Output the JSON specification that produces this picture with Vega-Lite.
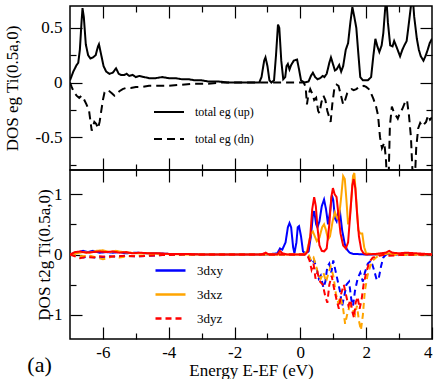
{
"$schema": "https://vega.github.io/schema/vega-lite/v6.json",
"padding": {"left": 2, "top": 4, "right": 6, "bottom": 0},
"spacing": 0,
"bounds": "flush",
"config": {
  "font": "Liberation Serif",
  "view": {"stroke": "black", "strokeWidth": 1.5},
  "axis": {"grid": false, "domain": false, "labelFont": "Liberation Serif", "labelFontSize": 17, "labelColor": "black", "titleFont": "Liberation Serif", "titleFontSize": 17, "titleFontWeight": "normal", "titleColor": "black", "tickColor": "black", "tickWidth": 1.2, "labelPadding": 20},
  "legend": {"labelFont": "Liberation Serif", "labelColor": "black"}
},
"title": {"text": "(a)", "orient": "bottom", "anchor": "start", "frame": "bounds", "fontSize": 22, "fontWeight": "normal", "font": "Liberation Serif", "color": "black", "offset": -24, "dx": 25},
"resolve": {"scale": {"y": "independent", "color": "independent", "strokeDash": "independent"}},
"datasets": {
"eg": [
{"s":"up","E":-7.0,"v":0.02},{"s":"up","E":-6.9,"v":0.1},{"s":"up","E":-6.8,"v":0.16},{"s":"up","E":-6.75,"v":0.18},{"s":"up","E":-6.7,"v":0.3},{"s":"up","E":-6.65,"v":0.55},{"s":"up","E":-6.62,"v":0.68},{"s":"up","E":-6.58,"v":0.6},{"s":"up","E":-6.52,"v":0.35},{"s":"up","E":-6.45,"v":0.25},{"s":"up","E":-6.38,"v":0.22},{"s":"up","E":-6.3,"v":0.23},{"s":"up","E":-6.22,"v":0.25},{"s":"up","E":-6.15,"v":0.33},{"s":"up","E":-6.12,"v":0.35},{"s":"up","E":-6.05,"v":0.25},{"s":"up","E":-5.98,"v":0.15},{"s":"up","E":-5.9,"v":0.1},{"s":"up","E":-5.8,"v":0.08},{"s":"up","E":-5.7,"v":0.09},{"s":"up","E":-5.6,"v":0.13},{"s":"up","E":-5.52,"v":0.08},{"s":"up","E":-5.45,"v":0.07},{"s":"up","E":-5.35,"v":0.07},{"s":"up","E":-5.28,"v":0.08},{"s":"up","E":-5.2,"v":0.06},{"s":"up","E":-5.1,"v":0.07},{"s":"up","E":-5.0,"v":0.05},{"s":"up","E":-4.9,"v":0.06},{"s":"up","E":-4.75,"v":0.05},{"s":"up","E":-4.6,"v":0.04},{"s":"up","E":-4.4,"v":0.04},{"s":"up","E":-4.2,"v":0.05},{"s":"up","E":-4.0,"v":0.04},{"s":"up","E":-3.8,"v":0.04},{"s":"up","E":-3.6,"v":0.03},{"s":"up","E":-3.4,"v":0.03},{"s":"up","E":-3.2,"v":0.02},{"s":"up","E":-3.0,"v":0.02},{"s":"up","E":-2.8,"v":0.01},{"s":"up","E":-2.5,"v":0.01},{"s":"up","E":-2.2,"v":0.0},{"s":"up","E":-1.5,"v":0.0},{"s":"up","E":-1.25,"v":0.0},{"s":"up","E":-1.18,"v":0.05},{"s":"up","E":-1.1,"v":0.2},{"s":"up","E":-1.06,"v":0.23},{"s":"up","E":-1.0,"v":0.15},{"s":"up","E":-0.94,"v":0.02},{"s":"up","E":-0.88,"v":0.0},{"s":"up","E":-0.8,"v":0.02},{"s":"up","E":-0.74,"v":0.25},{"s":"up","E":-0.68,"v":0.53},{"s":"up","E":-0.64,"v":0.5},{"s":"up","E":-0.58,"v":0.2},{"s":"up","E":-0.52,"v":0.03},{"s":"up","E":-0.46,"v":0.05},{"s":"up","E":-0.42,"v":0.15},{"s":"up","E":-0.38,"v":0.17},{"s":"up","E":-0.33,"v":0.12},{"s":"up","E":-0.28,"v":0.16},{"s":"up","E":-0.2,"v":0.2},{"s":"up","E":-0.1,"v":0.21},{"s":"up","E":-0.04,"v":0.12},{"s":"up","E":0.02,"v":0.02},{"s":"up","E":0.12,"v":0.0},{"s":"up","E":0.25,"v":0.01},{"s":"up","E":0.32,"v":0.06},{"s":"up","E":0.38,"v":0.09},{"s":"up","E":0.45,"v":0.05},{"s":"up","E":0.52,"v":0.03},{"s":"up","E":0.6,"v":0.04},{"s":"up","E":0.68,"v":0.06},{"s":"up","E":0.73,"v":0.05},{"s":"up","E":0.8,"v":0.08},{"s":"up","E":0.88,"v":0.18},{"s":"up","E":0.93,"v":0.23},{"s":"up","E":0.98,"v":0.18},{"s":"up","E":1.05,"v":0.11},{"s":"up","E":1.1,"v":0.12},{"s":"up","E":1.18,"v":0.16},{"s":"up","E":1.24,"v":0.1},{"s":"up","E":1.3,"v":0.15},{"s":"up","E":1.38,"v":0.3},{"s":"up","E":1.45,"v":0.36},{"s":"up","E":1.52,"v":0.55},{"s":"up","E":1.58,"v":0.69},{"s":"up","E":1.64,"v":0.6},{"s":"up","E":1.7,"v":0.5},{"s":"up","E":1.76,"v":0.27},{"s":"up","E":1.82,"v":0.05},{"s":"up","E":1.9,"v":0.02},{"s":"up","E":2.05,"v":0.02},{"s":"up","E":2.15,"v":0.05},{"s":"up","E":2.22,"v":0.25},{"s":"up","E":2.28,"v":0.4},{"s":"up","E":2.34,"v":0.33},{"s":"up","E":2.4,"v":0.28},{"s":"up","E":2.47,"v":0.34},{"s":"up","E":2.52,"v":0.45},{"s":"up","E":2.57,"v":0.65},{"s":"up","E":2.61,"v":0.78},{"s":"up","E":2.66,"v":0.55},{"s":"up","E":2.73,"v":0.34},{"s":"up","E":2.8,"v":0.33},{"s":"up","E":2.85,"v":0.38},{"s":"up","E":2.93,"v":0.32},{"s":"up","E":3.03,"v":0.24},{"s":"up","E":3.1,"v":0.3},{"s":"up","E":3.16,"v":0.34},{"s":"up","E":3.23,"v":0.38},{"s":"up","E":3.3,"v":0.55},{"s":"up","E":3.36,"v":0.7},{"s":"up","E":3.41,"v":0.8},{"s":"up","E":3.46,"v":0.6},{"s":"up","E":3.54,"v":0.4},{"s":"up","E":3.6,"v":0.3},{"s":"up","E":3.66,"v":0.24},{"s":"up","E":3.74,"v":0.2},{"s":"up","E":3.8,"v":0.24},{"s":"up","E":3.87,"v":0.3},{"s":"up","E":3.93,"v":0.36},{"s":"up","E":4.0,"v":0.4},
{"s":"dn","E":-7.0,"v":0.0},{"s":"dn","E":-6.95,"v":-0.04},{"s":"dn","E":-6.88,"v":-0.09},{"s":"dn","E":-6.8,"v":-0.12},{"s":"dn","E":-6.72,"v":-0.14},{"s":"dn","E":-6.65,"v":-0.12},{"s":"dn","E":-6.58,"v":-0.15},{"s":"dn","E":-6.5,"v":-0.2},{"s":"dn","E":-6.42,"v":-0.26},{"s":"dn","E":-6.38,"v":-0.35},{"s":"dn","E":-6.34,"v":-0.44},{"s":"dn","E":-6.3,"v":-0.4},{"s":"dn","E":-6.26,"v":-0.36},{"s":"dn","E":-6.2,"v":-0.38},{"s":"dn","E":-6.15,"v":-0.42},{"s":"dn","E":-6.1,"v":-0.36},{"s":"dn","E":-6.05,"v":-0.26},{"s":"dn","E":-6.0,"v":-0.16},{"s":"dn","E":-5.95,"v":-0.09},{"s":"dn","E":-5.88,"v":-0.07},{"s":"dn","E":-5.8,"v":-0.08},{"s":"dn","E":-5.72,"v":-0.1},{"s":"dn","E":-5.65,"v":-0.12},{"s":"dn","E":-5.58,"v":-0.1},{"s":"dn","E":-5.5,"v":-0.08},{"s":"dn","E":-5.4,"v":-0.06},{"s":"dn","E":-5.3,"v":-0.05},{"s":"dn","E":-5.15,"v":-0.05},{"s":"dn","E":-5.0,"v":-0.04},{"s":"dn","E":-4.8,"v":-0.04},{"s":"dn","E":-4.6,"v":-0.03},{"s":"dn","E":-4.4,"v":-0.03},{"s":"dn","E":-4.0,"v":-0.03},{"s":"dn","E":-3.6,"v":-0.02},{"s":"dn","E":-3.2,"v":-0.01},{"s":"dn","E":-2.8,"v":-0.01},{"s":"dn","E":-2.4,"v":0.0},{"s":"dn","E":-0.2,"v":0.0},{"s":"dn","E":0.1,"v":0.0},{"s":"dn","E":0.16,"v":-0.04},{"s":"dn","E":0.2,"v":-0.2},{"s":"dn","E":0.24,"v":-0.12},{"s":"dn","E":0.3,"v":-0.06},{"s":"dn","E":0.36,"v":-0.1},{"s":"dn","E":0.42,"v":-0.16},{"s":"dn","E":0.48,"v":-0.14},{"s":"dn","E":0.54,"v":-0.26},{"s":"dn","E":0.58,"v":-0.28},{"s":"dn","E":0.64,"v":-0.18},{"s":"dn","E":0.7,"v":-0.12},{"s":"dn","E":0.76,"v":-0.16},{"s":"dn","E":0.82,"v":-0.26},{"s":"dn","E":0.88,"v":-0.32},{"s":"dn","E":0.92,"v":-0.36},{"s":"dn","E":0.97,"v":-0.2},{"s":"dn","E":1.03,"v":-0.06},{"s":"dn","E":1.1,"v":-0.02},{"s":"dn","E":1.16,"v":-0.03},{"s":"dn","E":1.22,"v":-0.1},{"s":"dn","E":1.3,"v":-0.2},{"s":"dn","E":1.35,"v":-0.17},{"s":"dn","E":1.42,"v":-0.1},{"s":"dn","E":1.48,"v":-0.08},{"s":"dn","E":1.56,"v":-0.06},{"s":"dn","E":1.62,"v":-0.07},{"s":"dn","E":1.7,"v":-0.06},{"s":"dn","E":1.78,"v":-0.04},{"s":"dn","E":1.85,"v":-0.04},{"s":"dn","E":1.93,"v":-0.03},{"s":"dn","E":2.0,"v":-0.04},{"s":"dn","E":2.08,"v":-0.06},{"s":"dn","E":2.15,"v":-0.1},{"s":"dn","E":2.22,"v":-0.15},{"s":"dn","E":2.3,"v":-0.22},{"s":"dn","E":2.36,"v":-0.3},{"s":"dn","E":2.42,"v":-0.5},{"s":"dn","E":2.48,"v":-0.6},{"s":"dn","E":2.55,"v":-0.55},{"s":"dn","E":2.6,"v":-0.7},{"s":"dn","E":2.64,"v":-0.95},{"s":"dn","E":2.68,"v":-0.9},{"s":"dn","E":2.72,"v":-0.4},{"s":"dn","E":2.78,"v":-0.22},{"s":"dn","E":2.84,"v":-0.27},{"s":"dn","E":2.9,"v":-0.3},{"s":"dn","E":2.96,"v":-0.33},{"s":"dn","E":3.02,"v":-0.28},{"s":"dn","E":3.1,"v":-0.24},{"s":"dn","E":3.18,"v":-0.18},{"s":"dn","E":3.24,"v":-0.16},{"s":"dn","E":3.3,"v":-0.3},{"s":"dn","E":3.36,"v":-0.5},{"s":"dn","E":3.42,"v":-0.9},{"s":"dn","E":3.47,"v":-0.95},{"s":"dn","E":3.52,"v":-0.6},{"s":"dn","E":3.58,"v":-0.42},{"s":"dn","E":3.64,"v":-0.37},{"s":"dn","E":3.7,"v":-0.4},{"s":"dn","E":3.76,"v":-0.38},{"s":"dn","E":3.82,"v":-0.36},{"s":"dn","E":3.88,"v":-0.3},{"s":"dn","E":3.94,"v":-0.34},{"s":"dn","E":4.0,"v":-0.32}
],
"t2g": [
{"o":"xy","p":"up","E":-7.0,"w":0.0},{"o":"xy","p":"up","E":-6.8,"w":0.03},{"o":"xy","p":"up","E":-6.6,"w":0.06},{"o":"xy","p":"up","E":-6.45,"w":0.04},{"o":"xy","p":"up","E":-6.3,"w":0.06},{"o":"xy","p":"up","E":-6.1,"w":0.03},{"o":"xy","p":"up","E":-5.9,"w":0.04},{"o":"xy","p":"up","E":-5.7,"w":0.03},{"o":"xy","p":"up","E":-5.5,"w":0.04},{"o":"xy","p":"up","E":-5.3,"w":0.02},{"o":"xy","p":"up","E":-5.0,"w":0.03},{"o":"xy","p":"up","E":-4.7,"w":0.02},{"o":"xy","p":"up","E":-4.4,"w":0.02},{"o":"xy","p":"up","E":-4.0,"w":0.01},{"o":"xy","p":"up","E":-3.5,"w":0.01},{"o":"xy","p":"up","E":-3.0,"w":0.0},{"o":"xy","p":"up","E":-1.0,"w":0.0},{"o":"xy","p":"up","E":-0.7,"w":0.02},{"o":"xy","p":"up","E":-0.62,"w":0.1},{"o":"xy","p":"up","E":-0.55,"w":0.08},{"o":"xy","p":"up","E":-0.45,"w":0.2},{"o":"xy","p":"up","E":-0.38,"w":0.45},{"o":"xy","p":"up","E":-0.33,"w":0.52},{"o":"xy","p":"up","E":-0.28,"w":0.45},{"o":"xy","p":"up","E":-0.22,"w":0.12},{"o":"xy","p":"up","E":-0.18,"w":0.02},{"o":"xy","p":"up","E":-0.12,"w":0.2},{"o":"xy","p":"up","E":-0.08,"w":0.45},{"o":"xy","p":"up","E":-0.04,"w":0.47},{"o":"xy","p":"up","E":0.02,"w":0.3},{"o":"xy","p":"up","E":0.08,"w":0.05},{"o":"xy","p":"up","E":0.15,"w":0.02},{"o":"xy","p":"up","E":0.25,"w":0.05},{"o":"xy","p":"up","E":0.32,"w":0.3},{"o":"xy","p":"up","E":0.38,"w":0.65},{"o":"xy","p":"up","E":0.42,"w":0.72},{"o":"xy","p":"up","E":0.48,"w":0.5},{"o":"xy","p":"up","E":0.52,"w":0.45},{"o":"xy","p":"up","E":0.58,"w":0.55},{"o":"xy","p":"up","E":0.65,"w":0.8},{"o":"xy","p":"up","E":0.72,"w":0.91},{"o":"xy","p":"up","E":0.78,"w":0.75},{"o":"xy","p":"up","E":0.84,"w":0.5},{"o":"xy","p":"up","E":0.9,"w":0.7},{"o":"xy","p":"up","E":0.96,"w":0.98},{"o":"xy","p":"up","E":1.0,"w":0.9},{"o":"xy","p":"up","E":1.05,"w":0.6},{"o":"xy","p":"up","E":1.1,"w":0.55},{"o":"xy","p":"up","E":1.15,"w":0.7},{"o":"xy","p":"up","E":1.2,"w":0.72},{"o":"xy","p":"up","E":1.27,"w":0.4},{"o":"xy","p":"up","E":1.35,"w":0.17},{"o":"xy","p":"up","E":1.42,"w":0.08},{"o":"xy","p":"up","E":1.5,"w":0.03},{"o":"xy","p":"up","E":1.6,"w":0.01},{"o":"xy","p":"up","E":2.0,"w":0.0},{"o":"xy","p":"up","E":2.5,"w":0.0},{"o":"xy","p":"up","E":2.7,"w":0.01},{"o":"xy","p":"up","E":3.0,"w":0.0},{"o":"xy","p":"up","E":3.5,"w":0.01},{"o":"xy","p":"up","E":4.0,"w":0.0},
{"o":"xy","p":"dn","E":-7.0,"w":0.0},{"o":"xy","p":"dn","E":-6.8,"w":-0.02},{"o":"xy","p":"dn","E":-6.6,"w":-0.05},{"o":"xy","p":"dn","E":-6.4,"w":-0.03},{"o":"xy","p":"dn","E":-6.2,"w":-0.06},{"o":"xy","p":"dn","E":-6.0,"w":-0.04},{"o":"xy","p":"dn","E":-5.8,"w":-0.03},{"o":"xy","p":"dn","E":-5.6,"w":-0.04},{"o":"xy","p":"dn","E":-5.3,"w":-0.02},{"o":"xy","p":"dn","E":-5.0,"w":-0.03},{"o":"xy","p":"dn","E":-4.6,"w":-0.02},{"o":"xy","p":"dn","E":-4.2,"w":-0.01},{"o":"xy","p":"dn","E":-3.5,"w":0.0},{"o":"xy","p":"dn","E":0.2,"w":0.0},{"o":"xy","p":"dn","E":0.28,"w":-0.05},{"o":"xy","p":"dn","E":0.35,"w":-0.15},{"o":"xy","p":"dn","E":0.42,"w":-0.1},{"o":"xy","p":"dn","E":0.5,"w":-0.25},{"o":"xy","p":"dn","E":0.56,"w":-0.4},{"o":"xy","p":"dn","E":0.62,"w":-0.35},{"o":"xy","p":"dn","E":0.7,"w":-0.55},{"o":"xy","p":"dn","E":0.76,"w":-0.45},{"o":"xy","p":"dn","E":0.82,"w":-0.2},{"o":"xy","p":"dn","E":0.88,"w":-0.15},{"o":"xy","p":"dn","E":0.94,"w":-0.3},{"o":"xy","p":"dn","E":1.0,"w":-0.1},{"o":"xy","p":"dn","E":1.06,"w":-0.25},{"o":"xy","p":"dn","E":1.12,"w":-0.4},{"o":"xy","p":"dn","E":1.2,"w":-0.6},{"o":"xy","p":"dn","E":1.27,"w":-0.85},{"o":"xy","p":"dn","E":1.33,"w":-0.7},{"o":"xy","p":"dn","E":1.4,"w":-0.5},{"o":"xy","p":"dn","E":1.48,"w":-0.45},{"o":"xy","p":"dn","E":1.55,"w":-0.75},{"o":"xy","p":"dn","E":1.6,"w":-0.85},{"o":"xy","p":"dn","E":1.66,"w":-0.6},{"o":"xy","p":"dn","E":1.74,"w":-0.4},{"o":"xy","p":"dn","E":1.82,"w":-0.3},{"o":"xy","p":"dn","E":1.9,"w":-0.45},{"o":"xy","p":"dn","E":1.96,"w":-0.3},{"o":"xy","p":"dn","E":2.05,"w":-0.15},{"o":"xy","p":"dn","E":2.15,"w":-0.1},{"o":"xy","p":"dn","E":2.25,"w":-0.28},{"o":"xy","p":"dn","E":2.32,"w":-0.42},{"o":"xy","p":"dn","E":2.38,"w":-0.4},{"o":"xy","p":"dn","E":2.45,"w":-0.2},{"o":"xy","p":"dn","E":2.52,"w":-0.05},{"o":"xy","p":"dn","E":2.6,"w":0.0},{"o":"xy","p":"dn","E":4.0,"w":0.0},
{"o":"xz","p":"up","E":-7.0,"w":0.0},{"o":"xz","p":"up","E":-6.8,"w":0.02},{"o":"xz","p":"up","E":-6.6,"w":0.04},{"o":"xz","p":"up","E":-6.4,"w":0.03},{"o":"xz","p":"up","E":-6.2,"w":0.06},{"o":"xz","p":"up","E":-6.0,"w":0.07},{"o":"xz","p":"up","E":-5.8,"w":0.04},{"o":"xz","p":"up","E":-5.6,"w":0.06},{"o":"xz","p":"up","E":-5.4,"w":0.04},{"o":"xz","p":"up","E":-5.2,"w":0.03},{"o":"xz","p":"up","E":-5.0,"w":0.02},{"o":"xz","p":"up","E":-4.6,"w":0.02},{"o":"xz","p":"up","E":-4.2,"w":0.01},{"o":"xz","p":"up","E":-3.5,"w":0.0},{"o":"xz","p":"up","E":0.1,"w":0.0},{"o":"xz","p":"up","E":0.2,"w":0.05},{"o":"xz","p":"up","E":0.26,"w":0.2},{"o":"xz","p":"up","E":0.32,"w":0.35},{"o":"xz","p":"up","E":0.38,"w":0.38},{"o":"xz","p":"up","E":0.44,"w":0.3},{"o":"xz","p":"up","E":0.5,"w":0.22},{"o":"xz","p":"up","E":0.58,"w":0.28},{"o":"xz","p":"up","E":0.66,"w":0.45},{"o":"xz","p":"up","E":0.72,"w":0.5},{"o":"xz","p":"up","E":0.78,"w":0.4},{"o":"xz","p":"up","E":0.84,"w":0.25},{"o":"xz","p":"up","E":0.9,"w":0.3},{"o":"xz","p":"up","E":0.98,"w":0.55},{"o":"xz","p":"up","E":1.05,"w":0.7},{"o":"xz","p":"up","E":1.12,"w":0.6},{"o":"xz","p":"up","E":1.18,"w":0.65},{"o":"xz","p":"up","E":1.24,"w":0.95},{"o":"xz","p":"up","E":1.3,"w":1.3},{"o":"xz","p":"up","E":1.35,"w":1.25},{"o":"xz","p":"up","E":1.4,"w":0.9},{"o":"xz","p":"up","E":1.45,"w":0.5},{"o":"xz","p":"up","E":1.5,"w":0.6},{"o":"xz","p":"up","E":1.56,"w":1.0},{"o":"xz","p":"up","E":1.6,"w":1.3},{"o":"xz","p":"up","E":1.64,"w":1.35},{"o":"xz","p":"up","E":1.7,"w":0.9},{"o":"xz","p":"up","E":1.76,"w":0.4},{"o":"xz","p":"up","E":1.82,"w":0.35},{"o":"xz","p":"up","E":1.88,"w":0.35},{"o":"xz","p":"up","E":1.94,"w":0.12},{"o":"xz","p":"up","E":2.0,"w":0.02},{"o":"xz","p":"up","E":2.3,"w":0.0},{"o":"xz","p":"up","E":2.6,"w":0.01},{"o":"xz","p":"up","E":2.8,"w":0.02},{"o":"xz","p":"up","E":3.0,"w":0.0},{"o":"xz","p":"up","E":4.0,"w":0.0},
{"o":"xz","p":"dn","E":-7.0,"w":0.0},{"o":"xz","p":"dn","E":-6.7,"w":-0.03},{"o":"xz","p":"dn","E":-6.4,"w":-0.02},{"o":"xz","p":"dn","E":-6.2,"w":-0.05},{"o":"xz","p":"dn","E":-6.0,"w":-0.08},{"o":"xz","p":"dn","E":-5.85,"w":-0.06},{"o":"xz","p":"dn","E":-5.7,"w":-0.03},{"o":"xz","p":"dn","E":-5.5,"w":-0.05},{"o":"xz","p":"dn","E":-5.2,"w":-0.03},{"o":"xz","p":"dn","E":-4.9,"w":-0.02},{"o":"xz","p":"dn","E":-4.5,"w":-0.01},{"o":"xz","p":"dn","E":-4.0,"w":0.0},{"o":"xz","p":"dn","E":0.25,"w":0.0},{"o":"xz","p":"dn","E":0.32,"w":-0.1},{"o":"xz","p":"dn","E":0.4,"w":-0.05},{"o":"xz","p":"dn","E":0.48,"w":-0.2},{"o":"xz","p":"dn","E":0.56,"w":-0.35},{"o":"xz","p":"dn","E":0.62,"w":-0.4},{"o":"xz","p":"dn","E":0.7,"w":-0.3},{"o":"xz","p":"dn","E":0.78,"w":-0.45},{"o":"xz","p":"dn","E":0.86,"w":-0.3},{"o":"xz","p":"dn","E":0.92,"w":-0.2},{"o":"xz","p":"dn","E":1.0,"w":-0.35},{"o":"xz","p":"dn","E":1.08,"w":-0.65},{"o":"xz","p":"dn","E":1.15,"w":-0.8},{"o":"xz","p":"dn","E":1.22,"w":-0.7},{"o":"xz","p":"dn","E":1.3,"w":-0.9},{"o":"xz","p":"dn","E":1.36,"w":-1.15},{"o":"xz","p":"dn","E":1.42,"w":-1.0},{"o":"xz","p":"dn","E":1.5,"w":-0.85},{"o":"xz","p":"dn","E":1.58,"w":-0.9},{"o":"xz","p":"dn","E":1.66,"w":-1.0},{"o":"xz","p":"dn","E":1.72,"w":-0.85},{"o":"xz","p":"dn","E":1.78,"w":-1.1},{"o":"xz","p":"dn","E":1.84,"w":-1.25},{"o":"xz","p":"dn","E":1.9,"w":-1.0},{"o":"xz","p":"dn","E":1.96,"w":-0.6},{"o":"xz","p":"dn","E":2.04,"w":-0.35},{"o":"xz","p":"dn","E":2.12,"w":-0.2},{"o":"xz","p":"dn","E":2.2,"w":-0.1},{"o":"xz","p":"dn","E":2.3,"w":-0.05},{"o":"xz","p":"dn","E":2.45,"w":0.0},{"o":"xz","p":"dn","E":2.6,"w":0.03},{"o":"xz","p":"dn","E":2.7,"w":0.02},{"o":"xz","p":"dn","E":2.8,"w":-0.01},{"o":"xz","p":"dn","E":4.0,"w":0.0},
{"o":"yz","p":"up","E":-7.0,"w":0.0},{"o":"yz","p":"up","E":-6.85,"w":0.04},{"o":"yz","p":"up","E":-6.7,"w":0.05},{"o":"yz","p":"up","E":-6.5,"w":0.03},{"o":"yz","p":"up","E":-6.3,"w":0.04},{"o":"yz","p":"up","E":-6.1,"w":0.05},{"o":"yz","p":"up","E":-5.9,"w":0.04},{"o":"yz","p":"up","E":-5.7,"w":0.05},{"o":"yz","p":"up","E":-5.5,"w":0.03},{"o":"yz","p":"up","E":-5.3,"w":0.04},{"o":"yz","p":"up","E":-5.1,"w":0.02},{"o":"yz","p":"up","E":-4.9,"w":0.03},{"o":"yz","p":"up","E":-4.6,"w":0.02},{"o":"yz","p":"up","E":-4.3,"w":0.02},{"o":"yz","p":"up","E":-4.0,"w":0.01},{"o":"yz","p":"up","E":-3.5,"w":0.01},{"o":"yz","p":"up","E":-3.0,"w":0.0},{"o":"yz","p":"up","E":-1.2,"w":0.0},{"o":"yz","p":"up","E":-1.05,"w":0.03},{"o":"yz","p":"up","E":-0.95,"w":0.0},{"o":"yz","p":"up","E":-0.7,"w":0.0},{"o":"yz","p":"up","E":-0.62,"w":0.06},{"o":"yz","p":"up","E":-0.55,"w":0.02},{"o":"yz","p":"up","E":-0.4,"w":0.0},{"o":"yz","p":"up","E":0.15,"w":0.0},{"o":"yz","p":"up","E":0.22,"w":0.05},{"o":"yz","p":"up","E":0.3,"w":0.3},{"o":"yz","p":"up","E":0.36,"w":0.75},{"o":"yz","p":"up","E":0.42,"w":0.95},{"o":"yz","p":"up","E":0.47,"w":0.8},{"o":"yz","p":"up","E":0.52,"w":0.45},{"o":"yz","p":"up","E":0.58,"w":0.15},{"o":"yz","p":"up","E":0.65,"w":0.06},{"o":"yz","p":"up","E":0.72,"w":0.05},{"o":"yz","p":"up","E":0.8,"w":0.1},{"o":"yz","p":"up","E":0.88,"w":0.5},{"o":"yz","p":"up","E":0.94,"w":0.95},{"o":"yz","p":"up","E":0.99,"w":1.1},{"o":"yz","p":"up","E":1.04,"w":1.0},{"o":"yz","p":"up","E":1.1,"w":0.95},{"o":"yz","p":"up","E":1.15,"w":0.7},{"o":"yz","p":"up","E":1.22,"w":0.35},{"o":"yz","p":"up","E":1.3,"w":0.15},{"o":"yz","p":"up","E":1.38,"w":0.1},{"o":"yz","p":"up","E":1.45,"w":0.2},{"o":"yz","p":"up","E":1.52,"w":0.7},{"o":"yz","p":"up","E":1.58,"w":1.15},{"o":"yz","p":"up","E":1.62,"w":1.25},{"o":"yz","p":"up","E":1.67,"w":1.1},{"o":"yz","p":"up","E":1.72,"w":0.7},{"o":"yz","p":"up","E":1.78,"w":0.3},{"o":"yz","p":"up","E":1.85,"w":0.08},{"o":"yz","p":"up","E":1.92,"w":0.02},{"o":"yz","p":"up","E":2.0,"w":0.0},{"o":"yz","p":"up","E":2.3,"w":0.01},{"o":"yz","p":"up","E":2.6,"w":0.03},{"o":"yz","p":"up","E":2.7,"w":0.06},{"o":"yz","p":"up","E":2.8,"w":0.03},{"o":"yz","p":"up","E":3.0,"w":0.02},{"o":"yz","p":"up","E":3.2,"w":0.03},{"o":"yz","p":"up","E":3.5,"w":0.02},{"o":"yz","p":"up","E":3.8,"w":0.01},{"o":"yz","p":"up","E":4.0,"w":0.0},
{"o":"yz","p":"dn","E":-7.0,"w":0.0},{"o":"yz","p":"dn","E":-6.85,"w":-0.03},{"o":"yz","p":"dn","E":-6.7,"w":-0.06},{"o":"yz","p":"dn","E":-6.5,"w":-0.04},{"o":"yz","p":"dn","E":-6.3,"w":-0.05},{"o":"yz","p":"dn","E":-6.1,"w":-0.03},{"o":"yz","p":"dn","E":-5.9,"w":-0.04},{"o":"yz","p":"dn","E":-5.6,"w":-0.03},{"o":"yz","p":"dn","E":-5.3,"w":-0.02},{"o":"yz","p":"dn","E":-5.0,"w":-0.03},{"o":"yz","p":"dn","E":-4.6,"w":-0.02},{"o":"yz","p":"dn","E":-4.2,"w":-0.01},{"o":"yz","p":"dn","E":-3.5,"w":0.0},{"o":"yz","p":"dn","E":0.2,"w":0.0},{"o":"yz","p":"dn","E":0.28,"w":-0.1},{"o":"yz","p":"dn","E":0.34,"w":-0.25},{"o":"yz","p":"dn","E":0.4,"w":-0.15},{"o":"yz","p":"dn","E":0.46,"w":-0.4},{"o":"yz","p":"dn","E":0.52,"w":-0.3},{"o":"yz","p":"dn","E":0.6,"w":-0.45},{"o":"yz","p":"dn","E":0.68,"w":-0.5},{"o":"yz","p":"dn","E":0.76,"w":-0.7},{"o":"yz","p":"dn","E":0.82,"w":-0.8},{"o":"yz","p":"dn","E":0.88,"w":-0.5},{"o":"yz","p":"dn","E":0.95,"w":-0.35},{"o":"yz","p":"dn","E":1.02,"w":-0.55},{"o":"yz","p":"dn","E":1.1,"w":-0.75},{"o":"yz","p":"dn","E":1.17,"w":-0.9},{"o":"yz","p":"dn","E":1.24,"w":-0.65},{"o":"yz","p":"dn","E":1.32,"w":-0.5},{"o":"yz","p":"dn","E":1.4,"w":-0.7},{"o":"yz","p":"dn","E":1.46,"w":-0.85},{"o":"yz","p":"dn","E":1.52,"w":-0.75},{"o":"yz","p":"dn","E":1.58,"w":-0.95},{"o":"yz","p":"dn","E":1.63,"w":-1.05},{"o":"yz","p":"dn","E":1.68,"w":-0.8},{"o":"yz","p":"dn","E":1.74,"w":-0.7},{"o":"yz","p":"dn","E":1.8,"w":-0.9},{"o":"yz","p":"dn","E":1.86,"w":-0.75},{"o":"yz","p":"dn","E":1.92,"w":-0.5},{"o":"yz","p":"dn","E":2.0,"w":-0.3},{"o":"yz","p":"dn","E":2.1,"w":-0.12},{"o":"yz","p":"dn","E":2.2,"w":-0.05},{"o":"yz","p":"dn","E":2.4,"w":-0.02},{"o":"yz","p":"dn","E":2.6,"w":0.0},{"o":"yz","p":"dn","E":2.7,"w":-0.02},{"o":"yz","p":"dn","E":3.0,"w":-0.01},{"o":"yz","p":"dn","E":4.0,"w":0.0}
]
},
"vconcat": [
{
  "width": 362, "height": 164,
  "data": {"name": "eg"},
  "layer": [
    {
      "mark": {"type": "line", "strokeWidth": 2, "color": "black", "clip": true},
      "encoding": {
        "x": {"field": "E", "type": "quantitative", "scale": {"domain": [-7, 4], "nice": false, "zero": false},
              "axis": {"orient": "bottom", "values": [-6,-5,-4,-3,-2,-1,0,1,2,3], "labels": false, "title": null, "minExtent": 0, "maxExtent": 0,
                       "tickSize": {"condition": {"test": "datum.value % 2 == 0", "value": -12}, "value": -6}}},
        "y": {"field": "v", "type": "quantitative", "scale": {"domain": [-0.8, 0.7], "nice": false, "zero": false},
              "axis": {"orient": "left", "values": [-0.75,-0.5,-0.25,0,0.25,0.5], "title": "DOS eg Ti(0.5a,0)", "titlePadding": 14,
                       "labelExpr": "abs(datum.value*2 - round(datum.value*2)) < 0.001 ? toString(datum.value) : ''",
                       "tickSize": {"condition": {"test": "abs(datum.value*2 - round(datum.value*2)) < 0.001", "value": -12}, "value": -6}}},
        "strokeDash": {"field": "s", "type": "nominal", "scale": {"domain": ["up", "dn"], "range": [[1, 0], [8, 5]]},
                       "legend": {"orient": "none", "legendX": 83, "legendY": 90, "title": null, "symbolType": "stroke", "symbolSize": 900,
                                  "symbolStrokeWidth": 2, "symbolStrokeColor": "black", "labelFontSize": 12, "labelOffset": 10, "rowPadding": 5,
                                  "labelExpr": "datum.value == 'up' ? 'total eg (up)' : 'total eg (dn)'"}}
      }
    },
    {
      "mark": {"type": "line", "strokeOpacity": 0, "clip": true},
      "encoding": {
        "x": {"field": "E", "type": "quantitative", "scale": {"domain": [-7, 4], "nice": false, "zero": false},
              "axis": {"orient": "top", "values": [-6,-5,-4,-3,-2,-1,0,1,2,3], "labels": false, "title": null, "minExtent": 0, "maxExtent": 0,
                       "tickSize": {"condition": {"test": "datum.value % 2 == 0", "value": -12}, "value": -6}}},
        "y": {"field": "v", "type": "quantitative", "scale": {"domain": [-0.8, 0.7], "nice": false, "zero": false},
              "axis": {"orient": "right", "values": [-0.75,-0.5,-0.25,0,0.25,0.5], "labels": false, "title": null, "minExtent": 0, "maxExtent": 0,
                       "tickSize": {"condition": {"test": "abs(datum.value*2 - round(datum.value*2)) < 0.001", "value": -12}, "value": -6}}},
        "detail": {"field": "s"}
      }
    }
  ],
  "resolve": {"axis": {"x": "independent", "y": "independent"}}
},
{
  "width": 362, "height": 169,
  "data": {"name": "t2g"},
  "layer": [
    {
      "mark": {"type": "line", "strokeWidth": 2, "clip": true},
      "encoding": {
        "x": {"field": "E", "type": "quantitative", "scale": {"domain": [-7, 4], "nice": false, "zero": false},
              "axis": {"orient": "bottom", "values": [-6,-5,-4,-3,-2,-1,0,1,2,3,4], "title": "Energy E-EF (eV)", "titlePadding": 2, "labelPadding": 17,
                       "labelExpr": "datum.value % 2 == 0 ? toString(datum.value) : ''",
                       "tickSize": {"condition": {"test": "datum.value % 2 == 0", "value": -12}, "value": -6}}},
        "y": {"field": "w", "type": "quantitative", "scale": {"domain": [-1.4, 1.4], "nice": false, "zero": false},
              "axis": {"orient": "left", "values": [-1,-0.5,0,0.5,1], "title": "DOS t2g Ti(0.5a,0)", "titlePadding": -6,
                       "labelExpr": "datum.value == round(datum.value) ? toString(datum.value) : ''",
                       "tickSize": {"condition": {"test": "datum.value == round(datum.value)", "value": -12}, "value": -6}}},
        "color": {"field": "o", "type": "nominal", "scale": {"domain": ["xy", "xz", "yz"], "range": ["#0000ff", "#ffa500", "#ff0000"]},
                  "legend": {"orient": "none", "legendX": 84, "legendY": 84, "title": null, "symbolType": "stroke", "symbolSize": 900,
                             "symbolStrokeWidth": 2.5, "labelFontSize": 13, "labelOffset": 10, "rowPadding": -1,
                             "labelExpr": "'3d' + datum.value",
                             "encode": {"symbols": {"update": {"strokeDash": {"signal": "datum.value == 'yz' ? [6, 4] : [1, 0]"}}}}}},
        "strokeDash": {"field": "p", "type": "nominal", "scale": {"domain": ["up", "dn"], "range": [[1, 0], [6, 4]]}, "legend": null}
      }
    },
    {
      "mark": {"type": "line", "strokeOpacity": 0, "clip": true},
      "encoding": {
        "x": {"field": "E", "type": "quantitative", "scale": {"domain": [-7, 4], "nice": false, "zero": false},
              "axis": {"orient": "top", "values": [-6,-5,-4,-3,-2,-1,0,1,2,3], "labels": false, "title": null, "minExtent": 0, "maxExtent": 0,
                       "tickSize": {"condition": {"test": "datum.value % 2 == 0", "value": -12}, "value": -6}}},
        "y": {"field": "w", "type": "quantitative", "scale": {"domain": [-1.4, 1.4], "nice": false, "zero": false},
              "axis": {"orient": "right", "values": [-1,-0.5,0,0.5,1], "labels": false, "title": null, "minExtent": 0, "maxExtent": 0,
                       "tickSize": {"condition": {"test": "datum.value == round(datum.value)", "value": -12}, "value": -6}}},
        "detail": {"field": "o"}
      }
    }
  ],
  "resolve": {"axis": {"x": "independent", "y": "independent"}}
}
]
}
